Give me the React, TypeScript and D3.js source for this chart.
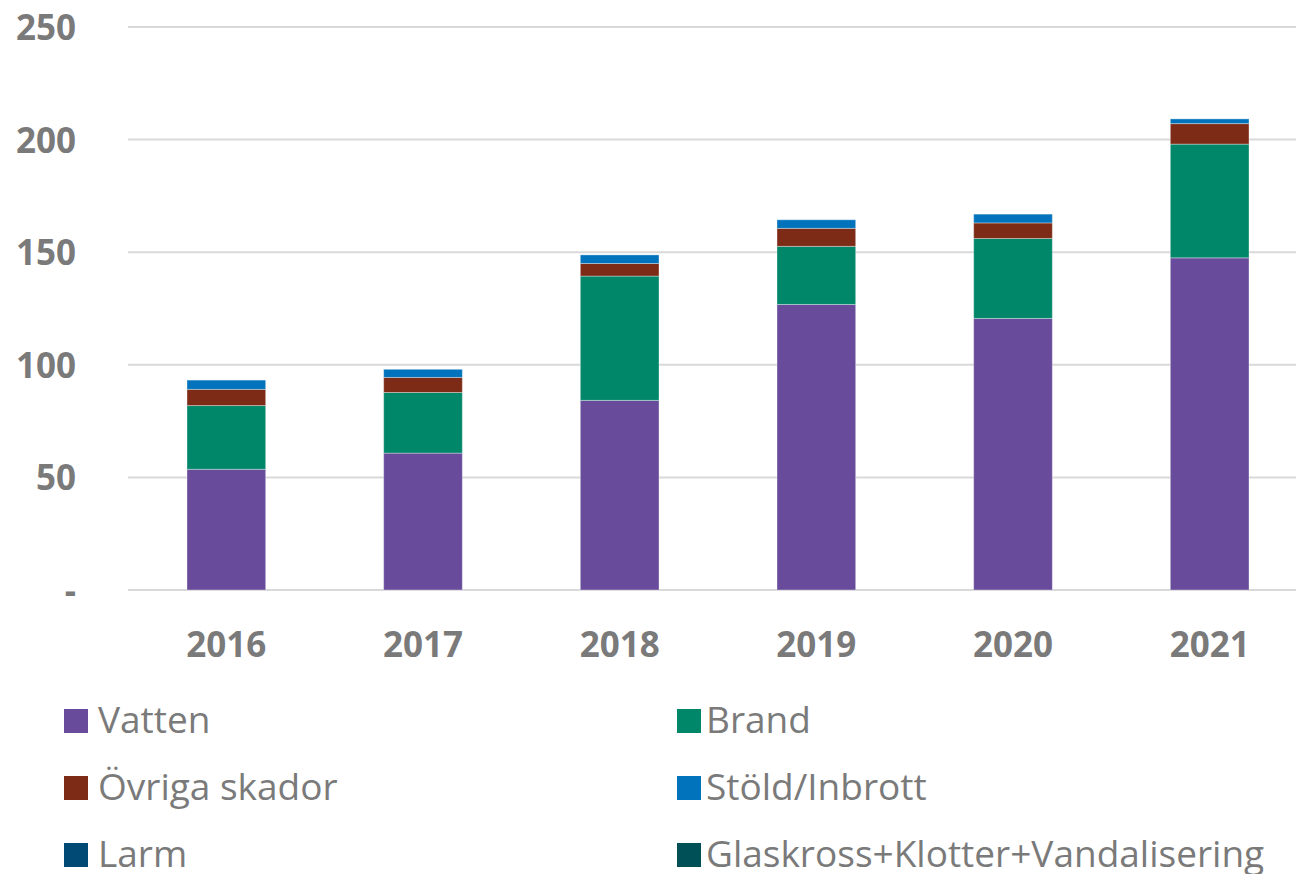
import React from "react";
import * as d3 from "d3";

const years = ["2016", "2017", "2018", "2019", "2020", "2021"];
const seriesNames = ["Vatten", "Brand", "Övriga skador", "Stöld/Inbrott", "Larm", "Glaskross+Klotter+Vandalisering"];
const seriesColors = ["#684B9A", "#00876A", "#7D2B17", "#0073BC", "#004A75", "#005157"];
const vatten = [53.6, 60.8, 84.2, 126.8, 120.6, 147.5];
const brand = [28.3, 26.9, 55.2, 25.8, 35.5, 50.5];
const ovriga = [7.2, 6.7, 5.6, 8.0, 6.9, 9.1];
const stold = [4.1, 3.6, 3.8, 3.8, 3.9, 2.1];
const larm = [0, 0, 0, 0, 0, 0];
const glaskross = [0, 0, 0, 0, 0, 0];
const yTicks = [0, 50, 100, 150, 200, 250];

const W = 1296;
const H = 874;

export default function App() {
  const values = [vatten, brand, ovriga, stold, larm, glaskross];
  const rows = years.map((y, i) => {
    const r: any = { year: y };
    seriesNames.forEach((s, k) => (r[s] = values[k][i]));
    return r;
  });
  const stack = d3.stack<any>().keys(seriesNames)(rows);

  const x = d3.scaleBand<string>().domain(years).range([128, 1308]).paddingInner(0.6).paddingOuter(0.3);
  const y = d3.scaleLinear().domain([0, 250]).range([590, 27]);
  const grey = "#7A7A7A";

  return (
    <svg width={W} height={H} style={{ position: "absolute", left: 0, top: 0, display: "block" }}>
      <rect width={W} height={H} fill="#ffffff" />
      {yTicks.map((t) => (
        <g key={t}>
          <line x1={128} x2={W} y1={y(t)} y2={y(t)} stroke="#D9D9D9" strokeWidth={2} />
          <text
            x={76}
            y={y(t) + 13}
            textAnchor="end"
            fontFamily="'Open Sans', sans-serif"
            fontWeight={700}
            fontSize={35}
            fill={grey}
          >
            {t === 0 ? "-" : t}
          </text>
        </g>
      ))}
      {stack.map((layer, k) => (
        <g key={seriesNames[k]} fill={seriesColors[k]}>
          {layer.map((d, i) =>
            d[1] - d[0] > 0 ? (
              <rect
                key={i}
                x={x(years[i])}
                width={x.bandwidth()}
                y={y(d[1])}
                height={y(d[0]) - y(d[1])}
                stroke="#ffffff"
                strokeOpacity={0.35}
                strokeWidth={1}
              />
            ) : null
          )}
        </g>
      ))}
      {years.map((yr) => (
        <text
          key={yr}
          x={(x(yr) as number) + x.bandwidth() / 2}
          y={657}
          textAnchor="middle"
          fontFamily="'Open Sans', sans-serif"
          fontWeight={700}
          fontSize={35}
          fill={grey}
        >
          {yr}
        </text>
      ))}
      {seriesNames.map((s, k) => {
        const col = k % 2;
        const row = Math.floor(k / 2);
        const base = 733 + row * 67;
        const sx = col === 0 ? 64 : 677;
        const tx = col === 0 ? 98 : 706;
        return (
          <g key={s}>
            <rect x={sx} y={base - 24} width={24} height={24} fill={seriesColors[k]} />
            <text x={tx} y={base} fontFamily="'Open Sans', sans-serif" fontSize={37} fill={grey}>
              {s}
            </text>
          </g>
        );
      })}
    </svg>
  );
}
